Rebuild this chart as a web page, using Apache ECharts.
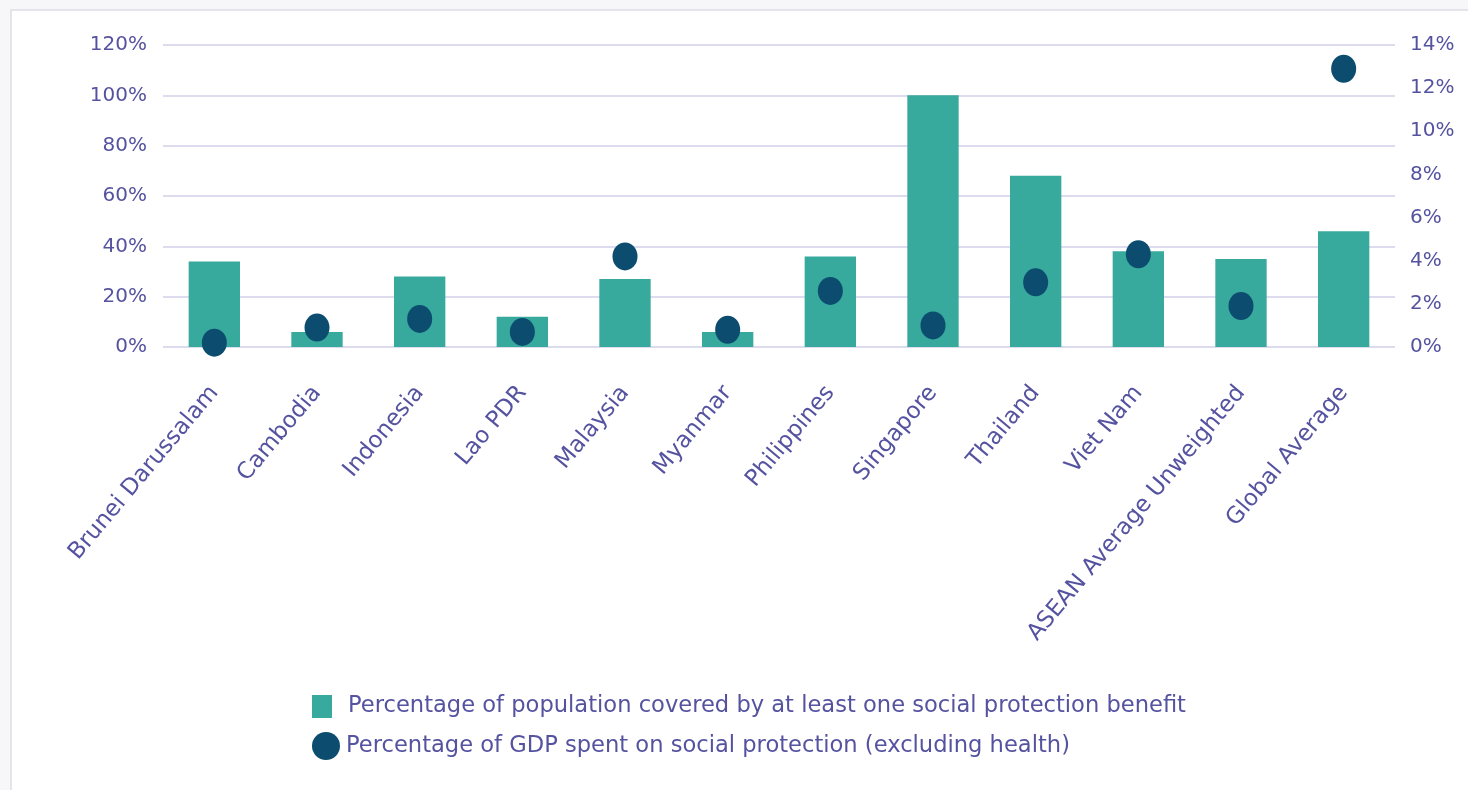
<!DOCTYPE html>
<html>
<head>
<meta charset="utf-8">
<script src="https://cdn.jsdelivr.net/npm/echarts@6/dist/echarts.min.js"></script>
<style>
  html, body { margin: 0; padding: 0; background: #f7f7f9; }
  #chart { width: 1468px; height: 790px; }
</style>
</head>
<body>
<div id="chart"></div>
<script>
// categories along the x axis
var countries = ['Brunei Darussalam', 'Cambodia', 'Indonesia', 'Lao PDR', 'Malaysia', 'Myanmar',
    'Philippines', 'Singapore', 'Thailand', 'Viet Nam', 'ASEAN Average Unweighted', 'Global Average'];

// % of population covered by at least one benefit (left axis)
var coverage = [34, 6, 28, 12, 27, 6, 36, 100, 68, 38, 35, 46];

// % of GDP spent on social protection, excl. health (right axis)
var gdpSpend = [0.2, 0.9, 1.3, 0.7, 4.2, 0.8, 2.6, 1.0, 3.0, 4.3, 1.9, 12.9];

var leftTicks = [0, 120, 20];   // min, max, interval
var rightTicks = [0, 14, 2];

var coverageName = 'Percentage of population covered by at least one social protection benefit';
var gdpName = 'Percentage of GDP spent on social protection (excluding health)';

var textColor = '#5553a0';
var fontFam = '"DejaVu Sans", sans-serif';

var chart = echarts.init(document.getElementById('chart'));

chart.setOption({
    backgroundColor: 'transparent',
    textStyle: { fontFamily: fontFam },
    graphic: [{
        type: 'rect',
        shape: { x: 11, y: 10, width: 1480, height: 800 },
        style: { fill: '#ffffff', stroke: '#e4e4ec', lineWidth: 2 },
        silent: true,
        z: -10
    }],
    grid: { left: 163, right: 73, top: 45, bottom: 443 },
    legend: [{
        orient: 'vertical',
        left: 307,
        top: 690,
        icon: 'rect',
        itemWidth: 20,
        itemHeight: 23,
        data: [coverageName],
        textStyle: { color: textColor, fontSize: 22.6, fontFamily: fontFam, padding: [0, 0, 0, 11] }
    }, {
        orient: 'vertical',
        left: 307,
        top: 727,
        icon: 'circle',
        itemWidth: 28,
        itemHeight: 31,
        data: [gdpName],
        textStyle: { color: textColor, fontSize: 22.6, fontFamily: fontFam, padding: [0, 0, 0, 1] }
    }],
    xAxis: {
        type: 'category',
        data: countries,
        axisLine: { show: false },
        axisTick: { show: false },
        axisLabel: {
            rotate: 50,
            margin: 42,
            interval: 0,
            color: textColor,
            fontSize: 23,
            fontFamily: fontFam
        }
    },
    yAxis: [{
        type: 'value',
        min: leftTicks[0],
        max: leftTicks[1],
        interval: leftTicks[2],
        axisLine: { show: false },
        axisTick: { show: false },
        axisLabel: { formatter: '{value}%', color: textColor, fontSize: 20, margin: 16, fontFamily: fontFam },
        splitLine: { lineStyle: { color: '#dcdcee', width: 2 } }
    }, {
        type: 'value',
        min: rightTicks[0],
        max: rightTicks[1],
        interval: rightTicks[2],
        axisLine: { show: false },
        axisTick: { show: false },
        axisLabel: { formatter: '{value}%', color: textColor, fontSize: 20, margin: 15, fontFamily: fontFam },
        splitLine: { show: false }
    }],
    series: [{
        name: coverageName,
        type: 'bar',
        yAxisIndex: 0,
        data: coverage,
        barWidth: '50%',
        itemStyle: { color: '#37a99d' }
    }, {
        name: gdpName,
        type: 'scatter',
        yAxisIndex: 1,
        data: gdpSpend,
        symbol: 'circle',
        symbolSize: [25, 28],
        itemStyle: { color: '#0c4d6f', opacity: 1 },
        z: 5
    }]
});
</script>
</body>
</html>
